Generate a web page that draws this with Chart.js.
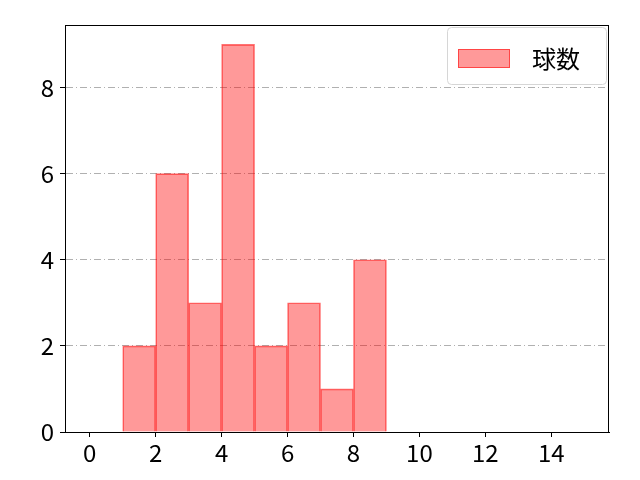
<!DOCTYPE html>
<html>
<head>
<meta charset="utf-8">
<script src="https://cdn.jsdelivr.net/npm/chart.js@4"></script>
<style>
  html, body { margin: 0; padding: 0; background: #fff; }
  #wrap { width: 640px; height: 480px; }
</style>
</head>
<body>
<div id="wrap"><canvas id="myChart"></canvas></div>
<script>
// histogram bins (left edge) and counts
const binStarts = [0, 1, 2, 3, 4, 5, 6, 7, 8, 9, 10, 11, 12, 13, 14];
const counts = [0, 2, 6, 3, 9, 2, 3, 1, 4, 0, 0, 0, 0, 0, 0];
const xTicks = [0, 2, 4, 6, 8, 10, 12, 14];
const yTicks = [0, 2, 4, 6, 8];
const seriesName = '球数';

const FONT = '"Noto Sans CJK JP", "Noto Sans", sans-serif';

const frameAndLegend = {
    id: 'frameAndLegend',
    afterDraw(chart) {
        const ctx = chart.ctx;
        const a = chart.chartArea;
        ctx.save();
        // box round plot area
        ctx.strokeStyle = '#000';
        ctx.lineWidth = 1;
        ctx.strokeRect(a.left + 0.5, a.top + 0.5, a.right - a.left - 1, a.bottom - a.top);
        // legend
        const bx = a.right - 162, by = a.top + 2, bw = 159, bh = 57;
        ctx.beginPath();
        ctx.roundRect(bx + 0.5, by + 0.5, bw, bh, 4);
        ctx.fillStyle = 'rgba(255,255,255,0.8)';
        ctx.fill();
        ctx.strokeStyle = '#d6d6d6';
        ctx.stroke();
        const ds = chart.data.datasets[0];
        ctx.fillStyle = ds.backgroundColor;
        ctx.fillRect(bx + 11, by + 22, 52, 19);
        ctx.strokeStyle = ds.borderColor;
        ctx.strokeRect(bx + 11.5, by + 22.5, 51, 18);
        ctx.fillStyle = '#000';
        ctx.font = '24px ' + FONT;
        ctx.textBaseline = 'middle';
        ctx.fillText(ds.label, bx + 85, by + 32);
        ctx.restore();
    }
};

const data = {
    datasets: [{
        label: seriesName,
        data: binStarts.map((b, i) => ({x: b + 0.5, y: counts[i]})),
        backgroundColor: 'rgba(255, 0, 0, 0.4)',
        borderColor: 'rgba(255, 0, 0, 0.55)',
        borderWidth: 1,
        barPercentage: 1,
        categoryPercentage: 1
    }]
};

const config = {
    type: 'bar',
    data: data,
    options: {
        responsive: false,
        animation: false,
        layout: { padding: { left: 0, right: 31, top: 25, bottom: 0 } },
        plugins: {
            legend: { display: false },
            tooltip: { enabled: false }
        },
        scales: {
            x: {
                type: 'linear',
                min: -0.75,
                max: 15.75,
                offset: false,
                afterBuildTicks: (s) => { s.ticks = xTicks.map(v => ({value: v})); },
                afterFit: (s) => { s.height = 48; },
                grid: { offset: false, drawOnChartArea: false, tickLength: 5, tickColor: '#000' },
                border: { color: '#000', width: 1 },
                ticks: { color: '#000', font: { family: FONT, size: 24 }, padding: 1, maxRotation: 0 }
            },
            y: {
                min: 0,
                max: 9.45,
                afterBuildTicks: (s) => { s.ticks = yTicks.map(v => ({value: v})); },
                afterFit: (s) => { s.width = 65; },
                grid: { color: '#b0b0b0', tickLength: 5, tickColor: '#000' },
                border: { color: '#000', width: 1, dash: [7, 3, 1, 3] },
                ticks: { color: '#000', font: { family: FONT, size: 24 }, padding: 6 }
            }
        }
    },
    plugins: [frameAndLegend]
};

const canvas = document.getElementById('myChart');
canvas.width = 640;
canvas.height = 480;
const myChart = new Chart(canvas, config);
</script>
</body>
</html>
